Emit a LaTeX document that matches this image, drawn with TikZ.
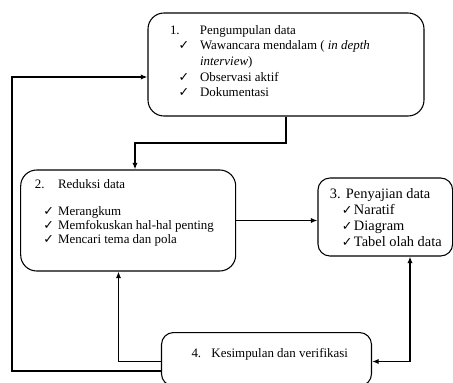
\documentclass[tikz,border=0pt]{standalone}
\usepackage{fontspec}
\setmainfont{Liberation Serif}
\newfontfamily\symfont{DejaVu Sans}
\usetikzlibrary{arrows.meta}

% text block of a stage box: width, height, lines
\newcommand{\boxtext}[3]{\begin{minipage}[c][#2][t]{#1}#3\end{minipage}}
\newcommand{\ck}[1]{\makebox[#1][l]{\symfont\fontsize{9.5}{9.5}\selectfont ✓}}

\tikzset{
  stage/.style={draw, rounded corners=9pt, line width=0.8pt, inner sep=0pt},
  flow/.style={line width=1.2pt, -{Latex[length=5pt,width=4pt]}},
}

\begin{document}
\begin{tikzpicture}[x=0.75pt,y=-0.75pt]
\useasboundingbox (0,0) rectangle (453,382);

% stages
\node[stage, rounded corners=12pt] (kumpul) at (286,64.5) {\boxtext{207pt}{77.25pt}{%
  \fontsize{9.7}{11.7}\selectfont\vspace*{9.3pt}%
  \hspace*{16.5pt}\makebox[22.5pt][l]{1.}Pengumpulan data\\
  \hspace*{23pt}\ck{16pt}Wawancara mendalam ( \textit{in depth}\\
  \hspace*{39pt}\textit{interview})\\
  \hspace*{23pt}\ck{16pt}Observasi aktif\\
  \hspace*{23pt}\ck{16pt}Dokumentasi}};
\node[stage, rounded corners=12pt] (reduksi) at (128.2,220.5) {\boxtext{161.25pt}{75.75pt}{%
  \fontsize{9.7}{10.5}\selectfont\vspace*{7.25pt}%
  \hspace*{10.7pt}\makebox[17.3pt][l]{2.}Reduksi data\\[9.75pt]
  \hspace*{17pt}\ck{11pt}Merangkum\\
  \hspace*{17pt}\ck{11pt}Memfokuskan hal-hal penting\\
  \hspace*{17pt}\ck{11pt}Mencari tema dan pola}};
\node[stage] (sajian) at (385.3,217) {\boxtext{101pt}{58.5pt}{%
  \fontsize{10.8}{11.8}\selectfont\vspace*{8.25pt}%
  \hspace*{9pt}\makebox[12pt][l]{3.}Penyajian data\\
  \hspace*{18pt}\ck{9pt}Naratif\\
  \hspace*{18pt}\ck{9pt}Diagram\\
  \hspace*{18pt}\ck{9pt}Tabel olah data}};
\node[stage] (simpul) at (266.5,359.2) {\boxtext{157.5pt}{40pt}{%
  \fontsize{9.7}{11.7}\selectfont\vspace*{12.1pt}%
  \hspace*{22.5pt}\makebox[15pt][l]{4.}Kesimpulan dan verifikasi}};

% connectors
\coordinate (k1) at (135,143);
\coordinate (k2) at (118.5,361.5);
\coordinate (k3) at (410,361.5);
\coordinate (k4) at (12,371);
\coordinate (k5) at (12,77);
\draw[flow] (kumpul.south) |- (k1) -- (k1 |- reduksi.north);
\draw[flow] (reduksi.east) -- (reduksi.east -| sajian.west);
\draw[flow] (k2 -| simpul.west) -- (k2) -- (k2 |- reduksi.south);
\draw[flow, {Latex[length=5pt,width=4pt]}-{Latex[length=5pt,width=4pt]}] (k3 |- sajian.south) -- (k3) -- (k3 -| simpul.east);
\draw[flow] (k4 -| simpul.west) -- (k4) -- (k5) -- (k5 -| kumpul.west);
\end{tikzpicture}
\end{document}
